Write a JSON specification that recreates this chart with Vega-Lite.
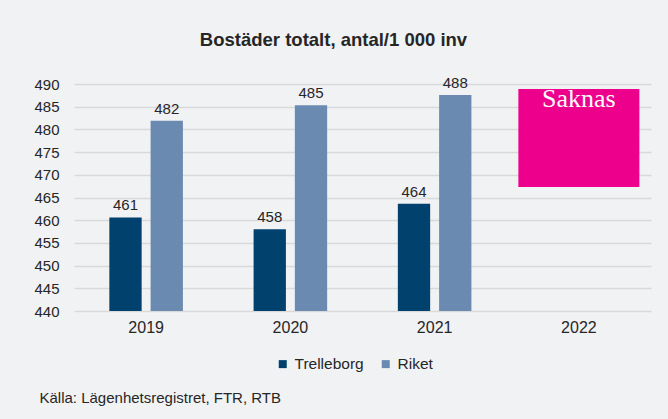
{
  "$schema": "https://vega.github.io/schema/vega-lite/v6.json",
  "width": 577,
  "height": 227,
  "autosize": {"type": "none"},
  "padding": {"left": 74, "top": 84, "right": 17, "bottom": 108},
  "background": "#f1f2f4",
  "config": {
    "font": "Liberation Sans",
    "view": {"stroke": null},
    "axis": {"labelColor": "#262626", "titleColor": "#262626"}
  },
  "title": {
    "text": "Bostäder totalt, antal/1 000 inv",
    "font": "Liberation Sans",
    "fontSize": 18.5,
    "fontWeight": "bold",
    "color": "#262626",
    "anchor": "middle",
    "dx": -29,
    "offset": 26
  },
  "datasets": {
    "bars": [
      {"year": "2019", "series": "Trelleborg", "value": 460.6},
      {"year": "2019", "series": "Riket", "value": 481.9},
      {"year": "2020", "series": "Trelleborg", "value": 458.0},
      {"year": "2020", "series": "Riket", "value": 485.3},
      {"year": "2021", "series": "Trelleborg", "value": 463.6},
      {"year": "2021", "series": "Riket", "value": 487.6}
    ],
    "missing": [
      {"year": "2022", "lo": 467.3, "hi": 488.9, "note": "Saknas"}
    ]
  },
  "encoding": {
    "x": {
      "field": "year",
      "type": "nominal",
      "scale": {"domain": ["2019", "2020", "2021", "2022"], "paddingInner": 0.49, "paddingOuter": 0.245},
      "axis": {
        "title": "Källa: Lägenhetsregistret, FTR, RTB",
        "titleFontSize": 15,
        "titleFontWeight": "normal",
        "titleAnchor": "start",
        "titleAlign": "left",
        "titleBaseline": "top",
        "titleX": -35,
        "titleY": 79,
        "labelAngle": 0,
        "labelFontSize": 16,
        "labelPadding": 8,
        "domain": false,
        "ticks": false,
        "grid": false
      }
    }
  },
  "layer": [
    {
      "data": {"name": "bars"},
      "mark": {"type": "bar", "clip": true},
      "encoding": {
        "xOffset": {"field": "series", "type": "nominal", "scale": {"domain": ["Trelleborg", "Riket"], "paddingInner": 0.217, "paddingOuter": 0}},
        "y": {
          "field": "value",
          "type": "quantitative",
          "scale": {"domain": [440, 490], "zero": false, "nice": false},
          "axis": {
            "title": null,
            "values": [440, 445, 450, 455, 460, 465, 470, 475, 480, 485, 490],
            "labelFontSize": 15,
            "labelPadding": 15,
            "domain": false,
            "ticks": false,
            "gridColor": "#d9d9d9",
            "gridWidth": 1.5
          }
        },
        "color": {
          "field": "series",
          "type": "nominal",
          "scale": {"domain": ["Trelleborg", "Riket"], "range": ["#00416e", "#6a8ab2"]},
          "legend": {
            "title": null,
            "orient": "none",
            "direction": "horizontal",
            "legendX": 201,
            "legendY": 272,
            "symbolType": "square",
            "symbolSize": 64,
            "symbolStrokeWidth": 0,
            "labelFontSize": 15.5,
            "labelColor": "#262626",
            "labelOffset": 4,
            "columnPadding": 14,
            "padding": 0
          }
        }
      }
    },
    {
      "data": {"name": "bars"},
      "mark": {"type": "text", "baseline": "alphabetic", "dy": -7, "fontSize": 15, "color": "#262626"},
      "encoding": {
        "xOffset": {"field": "series", "type": "nominal", "scale": {"domain": ["Trelleborg", "Riket"], "paddingInner": 0.217, "paddingOuter": 0}},
        "y": {
          "field": "value",
          "type": "quantitative",
          "axis": {
            "title": null,
            "values": [440, 445, 450, 455, 460, 465, 470, 475, 480, 485, 490],
            "labelFontSize": 15,
            "labelPadding": 15,
            "domain": false,
            "ticks": false,
            "gridColor": "#d9d9d9",
            "gridWidth": 1.5
          }
        },
        "text": {"field": "value", "type": "quantitative", "format": ".0f"}
      }
    },
    {
      "data": {"name": "missing"},
      "mark": {"type": "bar", "color": "#ec008c", "size": 121},
      "encoding": {
        "y": {
          "field": "lo",
          "type": "quantitative",
          "axis": {
            "title": null,
            "values": [440, 445, 450, 455, 460, 465, 470, 475, 480, 485, 490],
            "labelFontSize": 15,
            "labelPadding": 15,
            "domain": false,
            "ticks": false,
            "gridColor": "#d9d9d9",
            "gridWidth": 1.5
          }
        },
        "y2": {"field": "hi"}
      }
    },
    {
      "data": {"name": "missing"},
      "mark": {"type": "text", "font": "Liberation Serif", "fontSize": 26, "color": "white", "baseline": "alphabetic", "dy": 18},
      "encoding": {
        "y": {
          "field": "hi",
          "type": "quantitative",
          "axis": {
            "title": null,
            "values": [440, 445, 450, 455, 460, 465, 470, 475, 480, 485, 490],
            "labelFontSize": 15,
            "labelPadding": 15,
            "domain": false,
            "ticks": false,
            "gridColor": "#d9d9d9",
            "gridWidth": 1.5
          }
        },
        "text": {"field": "note"}
      }
    }
  ]
}
